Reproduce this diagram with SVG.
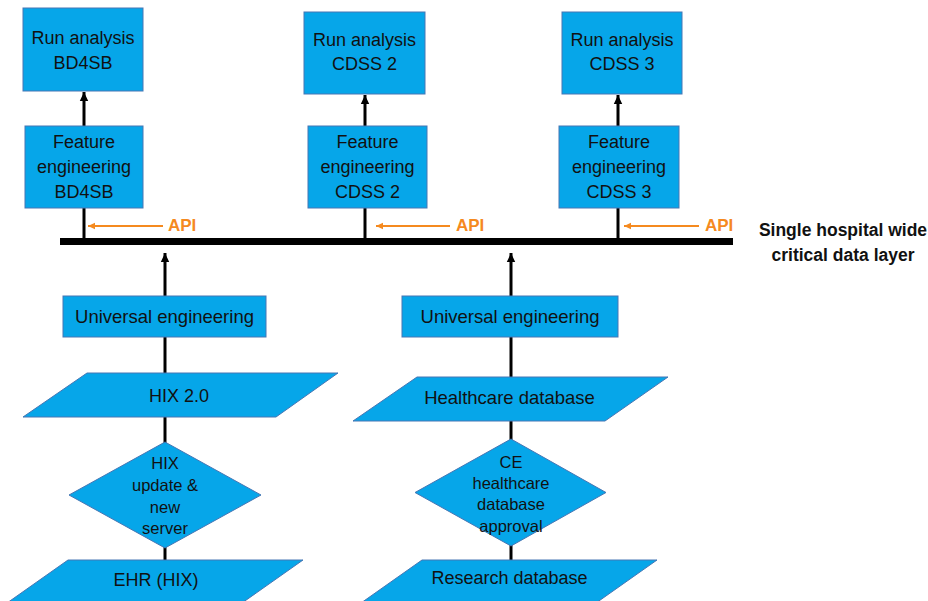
<svg xmlns="http://www.w3.org/2000/svg" width="928" height="601" viewBox="0 0 928 601">
  <style>
    .box { fill: #06A6E9; stroke: #4676B4; stroke-width: 1; }
    .lbl { font-family: "Liberation Sans", Arial, sans-serif; font-size: 18px; fill: #111; text-anchor: middle; }
    .wide { font-size: 18.5px; }
    .sm { font-size: 16.5px; }
    .api { font-family: "Liberation Sans", Arial, sans-serif; font-size: 17px; font-weight: bold; fill: #F58A1F; }
    .layer { font-family: "Liberation Sans", Arial, sans-serif; font-size: 17.5px; font-weight: bold; fill: #111; text-anchor: middle; }
    .link { stroke: #000; stroke-width: 3; fill: none; }
    .orange { stroke: #F58A1F; stroke-width: 2; fill: none; }
  </style>
  <defs>
    <marker id="blk" markerUnits="userSpaceOnUse" markerWidth="10" markerHeight="10" refX="9" refY="5" orient="auto">
      <path d="M0,0.8 L9,5 L0,9.2 Z" fill="#000"/>
    </marker>
    <marker id="org" markerUnits="userSpaceOnUse" markerWidth="8" markerHeight="8" refX="7" refY="4" orient="auto">
      <path d="M0,0.8 L7,4 L0,7.2 Z" fill="#F58A1F"/>
    </marker>
  </defs>

  <rect width="928" height="601" fill="#fff"/>

  <!-- connectors -->
  <g id="connectors">
    <!-- data layer bar -->
    <line x1="60" y1="241.5" x2="733" y2="241.5" stroke="#000" stroke-width="7"/>
    <!-- bar to feature engineering -->
    <line class="link" x1="84" y1="241" x2="84" y2="208"/>
    <line class="link" x1="365" y1="241" x2="365" y2="208"/>
    <line class="link" x1="618" y1="241" x2="618" y2="208"/>
    <!-- feature engineering to run analysis -->
    <line class="link" x1="84" y1="126" x2="84" y2="92" marker-end="url(#blk)"/>
    <line class="link" x1="365" y1="126" x2="365" y2="95" marker-end="url(#blk)"/>
    <line class="link" x1="618" y1="126" x2="618" y2="95" marker-end="url(#blk)"/>
    <!-- source chains -->
    <line class="link" x1="165" y1="560" x2="165" y2="337"/>
    <line class="link" x1="511" y1="560" x2="511" y2="337"/>
    <!-- universal engineering to data layer -->
    <line class="link" x1="165" y1="296" x2="165" y2="253" marker-end="url(#blk)"/>
    <line class="link" x1="511" y1="296" x2="511" y2="253" marker-end="url(#blk)"/>
    <!-- API arrows -->
    <line class="orange" x1="163" y1="226" x2="88" y2="226" marker-end="url(#org)"/>
    <line class="orange" x1="450" y1="226" x2="376" y2="226" marker-end="url(#org)"/>
    <line class="orange" x1="699" y1="226" x2="624" y2="226" marker-end="url(#org)"/>
  </g>

  <g id="run-bd4sb">
    <rect class="box" x="23" y="8" width="120" height="83"/>
    <text class="lbl" x="83" y="44">Run analysis</text>
    <text class="lbl" x="83" y="69">BD4SB</text>
  </g>
  <g id="run-cdss2">
    <rect class="box" x="304" y="12" width="121" height="82"/>
    <text class="lbl" x="364.5" y="46">Run analysis</text>
    <text class="lbl" x="364.5" y="70">CDSS 2</text>
  </g>
  <g id="run-cdss3">
    <rect class="box" x="562" y="12" width="120" height="82"/>
    <text class="lbl" x="622" y="46">Run analysis</text>
    <text class="lbl" x="622" y="70">CDSS 3</text>
  </g>

  <g id="fe-bd4sb">
    <rect class="box" x="25" y="126" width="118" height="82"/>
    <text class="lbl" x="84" y="148">Feature</text>
    <text class="lbl" x="84" y="173">engineering</text>
    <text class="lbl" x="84" y="198">BD4SB</text>
  </g>
  <g id="fe-cdss2">
    <rect class="box" x="308" y="126" width="119" height="82"/>
    <text class="lbl" x="367.5" y="148">Feature</text>
    <text class="lbl" x="367.5" y="173">engineering</text>
    <text class="lbl" x="367.5" y="198">CDSS 2</text>
  </g>
  <g id="fe-cdss3">
    <rect class="box" x="559" y="126" width="120" height="82"/>
    <text class="lbl" x="619" y="148">Feature</text>
    <text class="lbl" x="619" y="173">engineering</text>
    <text class="lbl" x="619" y="198">CDSS 3</text>
  </g>

  <g id="api-labels">
    <text class="api" x="168" y="231">API</text>
    <text class="api" x="456" y="231">API</text>
    <text class="api" x="705" y="231">API</text>
  </g>

  <g id="data-layer-label">
    <text class="layer" x="843" y="236">Single hospital wide</text>
    <text class="layer" x="843" y="261">critical data layer</text>
  </g>

  <g id="universal-left">
    <rect class="box" x="63" y="296" width="203" height="41"/>
    <text class="lbl wide" x="164.5" y="323">Universal engineering</text>
  </g>
  <g id="universal-right">
    <rect class="box" x="402" y="296" width="216" height="41"/>
    <text class="lbl wide" x="510" y="323">Universal engineering</text>
  </g>

  <g id="hix20">
    <polygon class="box" points="87,373 338,373 276,417 23,417"/>
    <text class="lbl" x="179" y="402">HIX 2.0</text>
  </g>
  <g id="healthcare-db">
    <polygon class="box" points="417,377 668,377 605,421 353,421"/>
    <text class="lbl wide" x="509.5" y="404">Healthcare database</text>
  </g>

  <g id="hix-update">
    <polygon class="box" points="165,442 261,495 165,548 69,495"/>
    <text class="lbl sm" x="165" y="469">HIX</text>
    <text class="lbl sm" x="165" y="491">update &amp;</text>
    <text class="lbl sm" x="165" y="513">new</text>
    <text class="lbl sm" x="165" y="534">server</text>
  </g>
  <g id="ce-approval">
    <polygon class="box" points="511,439 606,492.5 511,546 415,492.5"/>
    <text class="lbl sm" x="511" y="468">CE</text>
    <text class="lbl sm" x="511" y="488.5">healthcare</text>
    <text class="lbl sm" x="511" y="510">database</text>
    <text class="lbl sm" x="511" y="532">approval</text>
  </g>

  <g id="ehr-hix">
    <polygon class="box" points="68,560 303,560 225,615 -10,615"/>
    <text class="lbl" x="156" y="586">EHR (HIX)</text>
  </g>
  <g id="research-db">
    <polygon class="box" points="422,560 657,560 579,615 344,615"/>
    <text class="lbl" x="509.5" y="584">Research database</text>
  </g>
</svg>
